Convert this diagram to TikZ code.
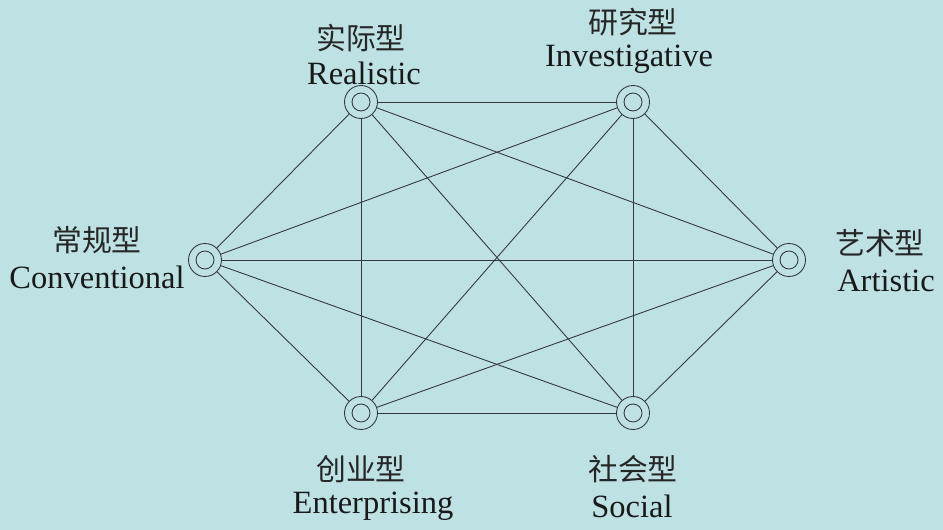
\documentclass[tikz,border=0pt]{standalone}
\usepackage{fontspec}
\setmainfont{Liberation Serif}
\newfontfamily\cjk{Noto Sans CJK SC}
\definecolor{bgcyan}{RGB}{190,225,228}
\definecolor{ink}{RGB}{50,56,60}
\begin{document}
\begin{tikzpicture}[x=0.02cm, y=-0.02cm,
		type/.style={circle, draw=ink, line width=0.5pt, minimum size=0.66cm, inner sep=0pt,
			path picture={\draw[ink, line width=0.5pt] (path picture bounding box.center) circle (0.18cm);}},
		zh/.style={font=\cjk\fontsize{17}{19}\selectfont, text=black!85, inner sep=0pt},
		en/.style={font=\fontsize{18.5}{21}\selectfont, text=black!90, inner sep=0pt}]
			\fill[bgcyan] (0, 0) rectangle (943, 530);
			\useasboundingbox (0, 0) rectangle (943, 530);

			\node[type] (R) at (361, 102) {};
			\node[type] (I) at (633, 102) {};
			\node[type] (A) at (789, 260) {};
			\node[type] (S) at (633, 413) {};
			\node[type] (E) at (361, 413) {};
			\node[type] (C) at (205, 260) {};

			\node[zh] (R zh) at (361, 38) {实际型};
			\node[en] (R en) at (364, 73) {Realistic};
			\node[zh] (I zh) at (633, 22) {研究型};
			\node[en] (I en) at (629, 59) {Investigative};
			\node[zh] (A zh) at (880, 243) {艺术型};
			\node[en] (A en) at (886, 281) {Artistic};
			\node[zh] (S zh) at (633, 469) {社会型};
			\node[en] (S en) at (632, 506) {Social};
			\node[zh] (E zh) at (361, 469) {创业型};
			\node[en] (E en) at (373, 506) {Enterprising};
			\node[zh] (C zh) at (97, 240) {常规型};
			\node[en] (C en) at (97, 277) {Conventional};

			\begin{scope}[draw=ink, line width=0.5pt]
				\draw (R) -- (I);
				\draw (R) -- (A);
				\draw (R) -- (S);
				\draw (R) -- (E);
				\draw (R) -- (C);
				\draw (I) -- (A);
				\draw (I) -- (S);
				\draw (I) -- (E);
				\draw (I) -- (C);
				\draw (A) -- (S);
				\draw (A) -- (E);
				\draw (A) -- (C);
				\draw (S) -- (E);
				\draw (S) -- (C);
				\draw (E) -- (C);
			\end{scope}
		\end{tikzpicture}
\end{document}
